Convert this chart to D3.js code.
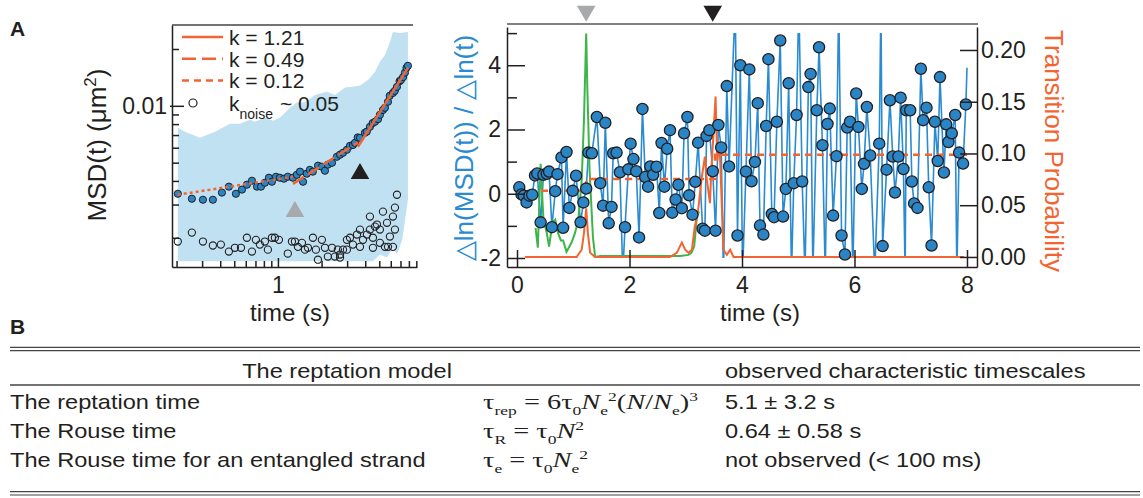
<!DOCTYPE html>
<html>
<head>
<meta charset="utf-8">
<script src="https://cdn.jsdelivr.net/npm/d3@7"></script>
<style>
  body { margin: 0; background: #fff; }
  svg text { font-family: "Liberation Sans", Arial, Helvetica, sans-serif; fill: #231f20; }
</style>
</head>
<body>
<svg id="fig" width="1143" height="498"></svg>
<script>
// ---------- data: panel A, left (MSD vs lag time) ----------
const msdT = [0.204, 0.255, 0.304, 0.356, 0.411, 0.459, 0.513, 0.565, 0.611, 0.662, 0.717, 0.764, 0.813, 0.867, 0.909, 0.969,
  1.03, 1.10, 1.17, 1.27, 1.35, 1.42, 1.49, 1.58, 1.66, 1.74, 1.89, 2.01, 2.11, 2.21, 2.36, 2.55, 2.68, 2.81, 2.99, 3.14,
  3.29, 3.40, 3.55, 3.68, 3.98, 4.10, 4.31, 4.50, 4.67, 4.90, 5.05, 5.30, 5.47, 5.74, 5.90, 6.21, 6.40, 6.62, 6.90, 7.05,
  7.30, 7.52, 7.70, 7.88];
const msdV = [0.00342, 0.00322, 0.00318, 0.00318, 0.00347, 0.00373, 0.00342, 0.00360, 0.00382, 0.00401, 0.00373, 0.00373,
  0.00391, 0.00416, 0.00396, 0.00421, 0.00416, 0.00411, 0.00421, 0.00416, 0.00431, 0.00448, 0.00396, 0.00437, 0.00458,
  0.00448, 0.00482, 0.00476, 0.00453, 0.00488, 0.00499, 0.00537, 0.00551, 0.00564, 0.00585, 0.00614, 0.00620, 0.00637,
  0.00680, 0.00677, 0.00720, 0.00730, 0.00774, 0.00810, 0.00823, 0.00850, 0.00896, 0.00950, 0.00976, 0.0105, 0.0113,
  0.0117, 0.0120, 0.0126, 0.0135, 0.0137, 0.0142, 0.0150, 0.0159, 0.0163];

const noiseT = [0.204, 0.255, 0.304, 0.356, 0.404, 0.459, 0.505, 0.556, 0.611, 0.662, 0.705, 0.751, 0.813, 0.853, 0.909,
  0.953, 1.016, 1.17, 1.249, 1.31, 1.374, 1.464, 1.536, 1.61, 1.743, 1.828, 1.888, 2.01, 2.11, 2.21, 2.36, 2.47, 2.59, 2.68,
  2.81, 2.99, 3.14, 3.29, 3.51, 3.68, 3.86, 4.11, 4.31, 4.52, 4.82, 5.05, 5.30, 5.65, 5.92, 6.21, 6.41, 6.62, 5.47, 5.74,
  6.21, 4.52, 3.68, 2.99, 2.68, 5.05, 6.41, 4.67, 4.31];
const noiseV = [0.00191, 0.00213, 0.00191, 0.00182, 0.00184, 0.00169, 0.00177, 0.00177, 0.00200, 0.00169, 0.00195,
  0.00184, 0.00191, 0.00173, 0.00200, 0.00200, 0.00195, 0.00165, 0.00191, 0.00191, 0.00179, 0.00188, 0.00173, 0.00177,
  0.00200, 0.00173, 0.00153, 0.00195, 0.00177, 0.00159, 0.00177, 0.00159, 0.00173, 0.00157, 0.00173, 0.00195, 0.00200,
  0.00184, 0.00208, 0.00221, 0.00195, 0.00208, 0.00221, 0.00200, 0.00235, 0.00221, 0.00275, 0.00240, 0.00203, 0.00259,
  0.00289, 0.00338, 0.00179, 0.00179, 0.00179, 0.00177, 0.00179, 0.00173, 0.00163, 0.00188, 0.00221, 0.00229, 0.00259];

// shaded spread around the MSD curve
const bandUpT = [0.204, 0.229, 0.29, 0.368, 0.467, 0.547, 0.641, 0.694, 0.813, 0.924, 1.032, 1.117, 1.21, 1.352, 1.536,
  1.80, 2.18, 2.47, 2.90, 3.29, 3.68, 4.18, 4.67, 5.05, 5.47, 5.92, 6.21, 6.94, 7.88];
const bandUpV = [0.00765, 0.00728, 0.00677, 0.00728, 0.00803, 0.00803, 0.00843, 0.00823, 0.00864, 0.00833, 0.00864,
  0.00918, 0.00976, 0.0104, 0.0104, 0.0114, 0.0119, 0.0114, 0.0125, 0.0126, 0.0128, 0.0137, 0.0151, 0.0171, 0.0186,
  0.0218, 0.0246, 0.0243, 0.0246];
const bandLoT = [0.204, 4.52, 5.05, 5.65, 6.21, 6.62, 7.20, 7.88];
const bandLoV = [0.00150, 0.00150, 0.00163, 0.00157, 0.00177, 0.00163, 0.00195, 0.00318];

// power-law fits: exponent, start/end lag time, MSD at start
const fitK = [1.21, 0.49, 0.12];
const fitStart = [3.56, 1.27, 0.204];
const fitEnd = [7.9, 3.56, 1.27];
const fitV0 = [0.00607, 0.00386, 0.00338];
const fitLabels = ["k = 1.21", "k = 0.49", "k = 0.12"];
const noiseLabel = ["k", "noise", "~ 0.05"];

const msdXTicks = [0.2, 0.3, 0.4, 0.5, 0.6, 0.7, 0.8, 0.9, 1, 2, 3, 4, 5, 6, 7, 8, 9];
const msdYTicks = [0.002, 0.003, 0.004, 0.005, 0.006, 0.007, 0.008, 0.009, 0.01, 0.02];

// triangles marking the two regimes on the MSD curve
const markT = [1.31, 3.68];
const markV = [0.00275, 0.00437];
const markFill = ["#a7a9ac", "#231f20"];

// ---------- data: panel A, right (local exponent vs time) ----------
const ratioT = [0.04, 0.08, 0.12, 0.17, 0.22, 0.27, 0.32, 0.36, 0.42, 0.47, 0.53, 0.57, 0.62, 0.68, 0.72, 0.79, 0.82, 0.88,
  0.93, 0.99, 1.05, 1.13, 1.18, 1.23, 1.27, 1.33, 1.42, 1.48, 1.53, 1.57, 1.63, 1.68, 1.71, 1.77, 1.83, 1.88, 1.92, 1.98,
  2.02, 2.07, 2.12, 2.17, 2.23, 2.28, 2.33, 2.37, 2.42, 2.48, 2.53, 2.57, 2.62, 2.67, 2.72, 2.76, 2.82, 2.87, 2.93, 2.97,
  3.03, 3.06, 3.12, 3.17, 3.22, 3.30, 3.34, 3.37, 3.42, 3.48, 3.53, 3.58, 3.63, 3.67, 3.73, 3.77, 3.88, 3.92, 3.97, 4.01,
  4.07, 4.13, 4.17, 4.23, 4.28, 4.32, 4.38, 4.43, 4.47, 4.53, 4.57, 4.62, 4.68, 4.73, 4.78, 4.83, 4.88, 4.92, 4.97, 5.01,
  5.07, 5.12, 5.18, 5.22, 5.26, 5.33, 5.37, 5.43, 5.48, 5.52, 5.56, 5.62, 5.68, 5.72, 5.77, 5.83, 5.87, 5.92, 5.97, 6.03,
  6.07, 6.13, 6.17, 6.22, 6.28, 6.36, 6.44, 6.47, 6.50, 6.57, 6.63, 6.68, 6.72, 6.78, 6.82, 6.87, 6.90, 6.92, 6.99, 7.02,
  7.06, 7.12, 7.18, 7.22, 7.28, 7.32, 7.37, 7.43, 7.48, 7.52, 7.59, 7.63, 7.67, 7.73, 7.79, 7.82, 7.86, 7.93, 7.98, 8.00];
const ratioV = [0.20, -0.02, -0.06, -0.27, -0.06, -0.03, 0.57, 0.63, -0.89, 0.59, 0.62, 0.69, -1.04, 0.08, 0.61, 1.13,
  -1.06, 1.30, -0.44, 0.09, 0.56, -0.89, -0.27, 0.16, 1.28, 1.26, 2.39, 0.33, -0.37, 2.21, -0.92, -0.41, 1.26, 1.28, 0.67,
  -2.5, -1.04, 0.76, 1.56, 1.08, 0.70, -1.36, 2.64, 0.52, 0.22, 0.85, 0.59, 0.84, -0.60, 1.58, 0.22, 1.40, 1.98, -0.59,
  -0.18, 0.28, -0.45, 1.88, 2.39, -0.05, -0.65, 0.37, 1.59, -1.09, -1.15, 1.80, 1.98, 0.70, -1.15, 2.14, 1.44, -2.5, 3.35,
  0.85, 6, -1.30, 4.00, -2.5, 0.69, 3.87, 0.39, 0.99, 2.82, -0.99, -1.27, 2.11, 4.19, -0.63, -0.73, 2.24, 4.77, -0.71, 0.15,
  3.44, -2.5, 0.33, 2.45, 6, 0.38, -2.5, 3.32, 3.73, -2.5, 2.60, 4.56, 1.51, -2.5, 2.17, 2.65, -0.68, 1.17, 6, -1.30, -1.89,
  2.06, 2.24, -2.5, 3.12, 2.08, 0.15, 0.93, 2.70, 1.19, -2.5, 1.56, 6, -1.63, 0.75, 2.91, 1.16, 0.04, 1.16, 2.99, 0.77, -2.5,
  2.60, 2.60, 0.38, -0.30, -0.44, 3.89, 2.29, 2.68, 0.20, -1.61, 2.24, 1.02, 3.63, 0.66, 2.16, 1.61, 1.88, 2.45, -2.5, 1.28,
  0.94, 2.78, 3.92];

// mean exponent within each regime (dashed step)
const stepT = [0, 1.23, 3.52, 8.0];
const stepV = [0.09, 0.46, 1.21, 1.21];

// transition probability (orange) and the green trace, right axis
const probT = [0.14, 1.06, 1.15, 1.19, 1.23, 1.26, 1.30, 1.39, 2.72, 2.84, 2.93, 2.99, 3.05, 3.11, 3.16, 3.22, 3.28, 3.34,
  3.37, 3.43, 3.46, 3.49, 3.53, 3.56, 3.60, 3.64, 3.67, 3.73, 3.79, 3.85, 7.95];
const probV = [0, 0, 0.007, 0.023, 0.047, 0.023, 0.004, 0, 0, 0.004, 0.014, 0.007, 0.004, 0.007, 0.029, 0.045, 0.075,
  0.097, 0.077, 0.052, 0.090, 0.116, 0.155, 0.093, 0.110, 0.052, 0.007, 0.002, 0.007, 0, 0];
const greenT = [0.33, 0.37, 0.42, 0.47, 0.53, 0.57, 0.63, 0.68, 0.73, 0.78, 0.82, 0.88, 0.97, 1.03, 1.09, 1.15, 1.19, 1.23,
  1.25, 1.29, 1.35, 1.39, 1.48, 2.9, 3.05, 3.1, 3.15, 3.2, 3.24];
const greenV = [0.028, 0.009, 0.090, 0.036, 0.023, 0.010, 0.033, 0.036, 0.023, 0.016, 0.016, 0.005, 0.014, 0.023, 0.036,
  0.074, 0.132, 0.216, 0.164, 0.084, 0.019, 0, 0.001, 0.001, 0.002, 0.004, 0.010, 0.040, 0.044];

const transT = [1.23, 3.48];
const ratioTicks = [-2, -1, 0, 1, 2, 3, 4, 5];
const probTicks = [0, 0.05, 0.10, 0.15, 0.20];
const timeTicks = [0, 2, 4, 6, 8];

// ---------- data: panel B table ----------
const tableHeader = ["The reptation model", "observed characteristic timescales"];
const rowNames = ["The reptation time", "The Rouse time", "The Rouse time for an entangled strand"];
const observed = ["5.1 \u00b1 3.2 s", "0.64 \u00b1 0.58 s", "not observed (< 100 ms)"];
// formula pieces: n = normal, i = italic, b = subscript, p = superscript
const formulas = [
  [["\u03c4", "n"], ["rep", "b"], [" = 6\u03c4", "n"], ["0", "b"], ["N", "i"], ["e", "b"], ["2", "p"], ["(", "n"], ["N", "i"],
   ["/", "n"], ["N", "i"], ["e", "b"], [")", "n"], ["3", "p"]],
  [["\u03c4", "n"], ["R", "b"], [" = \u03c4", "n"], ["0", "b"], ["N", "i"], ["2", "p"]],
  [["\u03c4", "n"], ["e", "b"], [" = \u03c4", "n"], ["0", "b"], ["N", "i"], ["e", "b"], ["2", "p"]]
];

// ---------- drawing ----------
const ink = "#231f20", orange = "#f26532", blue = "#2a8bd0", green = "#3db54a";
const svg = d3.select("#fig");
svg.append("rect").attr("width", 1143).attr("height", 498).attr("fill", "#fff");

svg.append("text").attr("x", 10).attr("y", 36).style("font-size", "21px").style("font-weight", "bold").text("A");
svg.append("text").attr("x", 10).attr("y", 334).style("font-size", "21px").style("font-weight", "bold").text("B");

// ===== left panel =====
const xL = d3.scaleLog().domain([0.186, 9.1]).range([172, 417]);
const yL = d3.scaleLog().domain([0.0014, 0.0268]).range([267, 25]);
const gL = svg.append("g");

const bandPts = bandUpT.map((t, i) => [t, bandUpV[i]])
  .concat(bandLoT.map((t, i) => [t, bandLoV[i]]).reverse());
gL.append("path")
  .attr("d", d3.line().x(d => xL(d[0])).y(d => yL(d[1]))(bandPts) + "Z")
  .attr("fill", "#c0e1f1");

gL.selectAll(".noise").data(noiseT).enter().append("circle")
  .attr("cx", d => xL(d)).attr("cy", (d, i) => yL(noiseV[i])).attr("r", 3.6)
  .attr("fill", "none").attr("stroke", ink).attr("stroke-width", 1.1);

gL.selectAll(".msd").data(msdT).enter().append("circle")
  .attr("cx", d => xL(d)).attr("cy", (d, i) => yL(msdV[i])).attr("r", 3.6)
  .attr("fill", "#2a85c6").attr("stroke", ink).attr("stroke-width", 1);

const fitDash = [null, "13,5", "3,3"];
fitK.forEach((k, i) => {
  const v1 = fitV0[i] * Math.pow(fitEnd[i] / fitStart[i], k);
  gL.append("line")
    .attr("x1", xL(fitStart[i])).attr("y1", yL(fitV0[i]))
    .attr("x2", xL(fitEnd[i])).attr("y2", yL(v1))
    .attr("stroke", orange).attr("stroke-width", 2.5)
    .attr("stroke-dasharray", fitDash[i]);
});

const tri = d3.symbol().type(d3.symbolTriangle).size(150);
markT.forEach((t, i) => {
  gL.append("path").attr("d", tri)
    .attr("transform", `translate(${xL(t)},${yL(markV[i])})`)
    .attr("fill", markFill[i]);
});

// legend
const legDash = [null, "14,6", "7,5"];
fitLabels.forEach((lab, i) => {
  const y = 37 + i * 21.7;
  gL.append("line").attr("x1", 182).attr("x2", 223).attr("y1", y).attr("y2", y)
    .attr("stroke", orange).attr("stroke-width", 2.5).attr("stroke-dasharray", legDash[i]);
  gL.append("text").attr("x", 229).attr("y", y + 8).style("font-size", "21px").text(lab);
});
gL.append("circle").attr("cx", 193).attr("cy", 103).attr("r", 4)
  .attr("fill", "none").attr("stroke", ink).attr("stroke-width", 1.2);
const nl = gL.append("text").attr("x", 229).attr("y", 111).style("font-size", "21px");
nl.append("tspan").text(noiseLabel[0]);
nl.append("tspan").attr("dy", 8).style("font-size", "14px").text(noiseLabel[1]);
nl.append("tspan").attr("x", 280).attr("dy", -8).text(noiseLabel[2]);

// axes
const axLy = d3.axisLeft(yL).tickValues(msdYTicks).tickSizeInner(-7).tickSizeOuter(0).tickPadding(5)
  .tickFormat(d => d === 0.01 ? "0.01" : "");
gL.append("g").attr("transform", "translate(172,0)").call(axLy)
  .call(g => g.selectAll(".tick line").attr("x1", d => d === 0.01 ? -2 : 0).attr("x2", d => d === 0.01 ? 12 : 7));
const axLx = d3.axisBottom(xL).tickValues(msdXTicks).tickSizeInner(-6).tickSizeOuter(0).tickPadding(10)
  .tickFormat(d => d === 1 ? "1" : "");
gL.append("g").attr("transform", "translate(0,267)").call(axLx)
  .call(g => g.selectAll(".tick line").attr("y2", d => d === 1 ? -9 : -6));
gL.append("line").attr("x1", 172).attr("x2", 413).attr("y1", 25).attr("y2", 25)
  .attr("stroke", "#444").attr("stroke-width", 1.5);

gL.append("text").attr("x", 290).attr("y", 321).attr("text-anchor", "middle")
  .style("font-size", "24px").text("time (s)");
const yl = gL.append("text").attr("transform", "translate(106,145) rotate(-90)")
  .attr("text-anchor", "middle").style("font-size", "26px");
yl.append("tspan").text("MSD(t) (\u03bcm");
yl.append("tspan").attr("dy", -10).style("font-size", "17px").text("2");
yl.append("tspan").attr("dy", 10).text(")");

// ===== right panel =====
const xR = d3.scaleLinear().domain([-0.178, 8.178]).range([507, 977]);
const yR = d3.scaleLinear().domain([-2.28, 5.19]).range([267, 27]);
const pR = d3.scaleLinear().domain([-0.0097, 0.2222]).range([267, 27]);
const gR = svg.append("g");

svg.append("clipPath").attr("id", "clipR").append("rect")
  .attr("x", 507).attr("y", yR(5)).attr("width", 470).attr("height", yR(-2) - yR(5));

gR.append("path").datum(ratioT)
  .attr("d", d3.line().x(d => xR(d)).y((d, i) => yR(ratioV[i])))
  .attr("fill", "none").attr("stroke", blue).attr("stroke-width", 1.6)
  .attr("clip-path", "url(#clipR)");

gR.append("path").datum(greenT)
  .attr("d", d3.line().x(d => xR(d)).y((d, i) => pR(greenV[i])))
  .attr("fill", "none").attr("stroke", green).attr("stroke-width", 2);

gR.append("path").datum(probT)
  .attr("d", d3.line().x(d => xR(d)).y((d, i) => pR(probV[i])))
  .attr("fill", "none").attr("stroke", orange).attr("stroke-width", 2);

gR.append("path").datum(stepT)
  .attr("d", d3.line().curve(d3.curveStepAfter).x(d => xR(d)).y((d, i) => yR(stepV[i])))
  .attr("fill", "none").attr("stroke", orange).attr("stroke-width", 2.5).attr("stroke-dasharray", "7,5");

// markers only for points inside the axis range; the trace's last sample has no marker
const shown = ratioT.slice(0, -1).map((t, i) => [t, ratioV[i]]).filter(d => d[1] >= -2 && d[1] <= 5);
gR.selectAll(".pt").data(shown).enter().append("circle")
  .attr("cx", d => xR(d[0])).attr("cy", d => yR(d[1])).attr("r", 5.6)
  .attr("fill", "#2a85c6").attr("stroke", ink).attr("stroke-width", 1.3);

// axes
const axRx = d3.axisBottom(xR).tickValues(timeTicks).tickSizeInner(-17).tickSizeOuter(0).tickPadding(10)
  .tickFormat(d => String(d));
gR.append("g").attr("transform", "translate(0,267)").call(axRx);
const axRy = d3.axisLeft(yR).tickValues(ratioTicks).tickSizeInner(-18).tickSizeOuter(0).tickPadding(6)
  .tickFormat(d => d % 2 === 0 ? String(d) : "");
gR.append("g").attr("transform", "translate(507,0)").call(axRy)
  .call(g => g.selectAll(".tick line").attr("x2", d => d % 2 === 0 ? 18 : 10));
const axRp = d3.axisRight(pR).tickValues(probTicks).tickSizeInner(-17).tickSizeOuter(0).tickPadding(4)
  .tickFormat(d3.format(".2f"));
gR.append("g").attr("transform", "translate(977,0)").call(axRp);
gR.append("line").attr("x1", 507).attr("x2", 978).attr("y1", 24).attr("y2", 24)
  .attr("stroke", "#555").attr("stroke-width", 1.5);

transT.forEach((t, i) => {
  gR.append("path").attr("d", tri)
    .attr("transform", `translate(${xR(t)},11) rotate(180)`)
    .attr("fill", markFill[i]);
});

gR.append("text").attr("x", 760).attr("y", 321).attr("text-anchor", "middle")
  .style("font-size", "24px").text("time (s)");
gR.append("text").attr("transform", "translate(473,148) rotate(-90)").attr("text-anchor", "middle")
  .style("font-size", "26px").style("fill", blue).text("\u25b3ln(MSD(t)) / \u25b3ln(t)");
gR.append("text").attr("transform", "translate(1045,151) rotate(90)").attr("text-anchor", "middle")
  .style("font-size", "26px").style("fill", orange).text("Transition Probability");

svg.selectAll(".domain").attr("stroke", ink).attr("stroke-width", 1.5);
svg.selectAll(".tick line").attr("stroke", ink).attr("stroke-width", 1.5);
gL.selectAll(".tick text").style("font-size", "23px");
gR.selectAll(".tick text").style("font-size", "23px");

// ===== table B =====
const gT = svg.append("g");
function rule(y, w) {
  gT.append("line").attr("x1", 10).attr("x2", 1140).attr("y1", y).attr("y2", y)
    .attr("stroke", "#444").attr("stroke-width", w);
}
rule(347.3, 1.2); rule(350.7, 1.2); rule(385, 1.5); rule(491.7, 1.2); rule(495, 1.2);

function cell(str, x, y, anchor) {
  gT.append("text").attr("transform", `translate(${x},${y}) scale(1.18,1)`)
    .attr("text-anchor", anchor || "start").style("font-size", "20px").text(str);
}
cell(tableHeader[0], 347, 378, "middle");
cell(tableHeader[1], 725, 378);
const rowY = [409, 438, 467];
rowNames.forEach((r, i) => cell(r, 10, rowY[i]));
observed.forEach((r, i) => cell(r, 725, rowY[i]));

formulas.forEach((segs, i) => {
  const t = gT.append("text").attr("transform", `translate(483,${rowY[i]}) scale(1.35,1)`)
    .style("font-family", "'Liberation Serif', 'DejaVu Serif', serif").style("font-size", "21px")
    .style("white-space", "pre");
  let shift = 0;
  segs.forEach(([s, kind]) => {
    const target = kind === "b" ? 6 : kind === "p" ? -8 : 0;
    t.append("tspan").attr("dy", target - shift)
      .style("font-size", kind === "b" || kind === "p" ? "13px" : null)
      .style("font-style", kind === "i" ? "italic" : null)
      .text(s);
    shift = target;
  });
});
</script>
</body>
</html>
